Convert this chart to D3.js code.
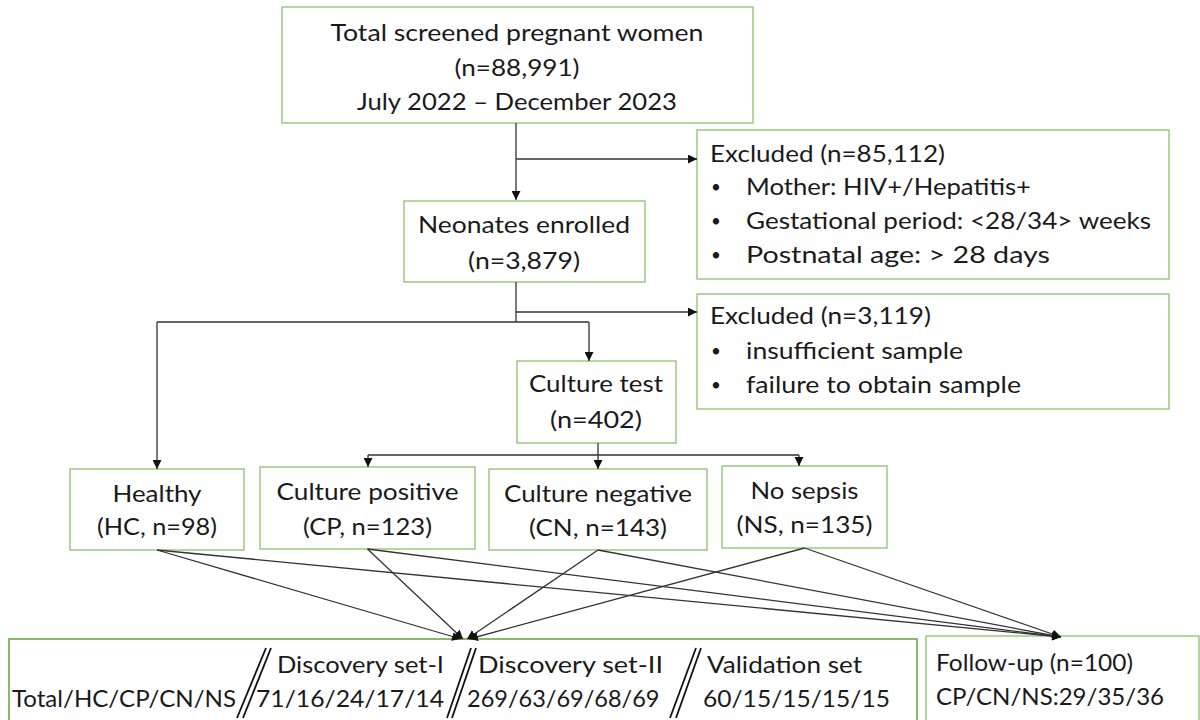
<!DOCTYPE html>
<html><head><meta charset="utf-8">
<script src="https://cdn.jsdelivr.net/npm/d3@7"></script>
<style>html,body{margin:0;padding:0;background:#fff;}svg{display:block;}</style>
</head><body>
<svg id="c" width="1200" height="720"></svg>
<script>
// ---- data ----
const screenedLines = ["Total screened pregnant women", "(n=88,991)", "July 2022 \u2013 December 2023"];
const excluded1Title = "Excluded (n=85,112)";
const excluded1Items = ["Mother: HIV+/Hepatitis+", "Gestational period: <28/34> weeks", "Postnatal age: > 28 days"];
const enrolledLines = ["Neonates enrolled", "(n=3,879)"];
const excluded2Title = "Excluded (n=3,119)";
const excluded2Items = ["insufficient sample", "failure to obtain sample"];
const cultureLines = ["Culture test", "(n=402)"];
const groupNames = ["Healthy", "Culture positive", "Culture negative", "No sepsis"];
const groupCodes = ["HC", "CP", "CN", "NS"];
const groupN = [98, 123, 143, 135];
const setHeader = "Total/HC/CP/CN/NS";
const setNames = ["Discovery set-I", "Discovery set-II", "Validation set"];
const setCounts = [[71, 16, 24, 17, 14], [269, 63, 69, 68, 69], [60, 15, 15, 15, 15]];
const followUpN = 100;
const followUpCodes = ["CP", "CN", "NS"];
const followUpCounts = [29, 35, 36];

// ---- layout ----
const svg = d3.select("#c");
const FONT = "Lato, 'Open Sans', sans-serif";
const BORDER = "#8cc26c";
const LINE = "#333";

const defs = svg.append("defs");
defs.append("marker").attr("id", "ah").attr("viewBox", "0 0 10 10")
  .attr("refX", 10).attr("refY", 5).attr("markerWidth", 9).attr("markerHeight", 9)
  .attr("markerUnits", "userSpaceOnUse").attr("orient", "auto")
  .append("path").attr("d", "M0,0 L10,5 L0,10 z").attr("fill", "#111");

const gBox = svg.append("g"), gLine = svg.append("g"), gText = svg.append("g");

function box(x, y, w, h, color, sw) {
  gBox.append("rect").attr("x", x).attr("y", y).attr("width", w).attr("height", h)
    .attr("fill", "#fff").attr("stroke", color || BORDER).attr("stroke-width", sw || 1.3);
}
function txt(x, y, s, anchor, target, size) {
  const t = gText.append("text").attr("x", x).attr("y", y).text(s)
    .attr("font-family", FONT).attr("font-size", size || 23.5).attr("fill", "#1a1a1a")
    .attr("text-anchor", anchor || "start");
  if (target) {
    const L = t.node().getComputedTextLength();
    if (Math.abs(L - target) > 1) t.attr("textLength", target).attr("lengthAdjust", "spacingAndGlyphs");
  }
  return t;
}
function line(pts, arrow) {
  const p = gLine.append("path").attr("d", d3.line()(pts)).attr("fill", "none")
    .attr("stroke", LINE).attr("stroke-width", 1.3);
  if (arrow) p.attr("marker-end", "url(#ah)");
}

// boxes
const B = {
  top: [282, 7, 471, 116], ex1: [697, 130, 472, 149], neo: [404, 201, 241, 81],
  ex2: [697, 294, 472, 115], cul: [517, 361, 159, 82],
  g: [[70, 469, 174, 81], [260, 467, 215, 82], [489, 469, 218, 81], [722, 466, 165, 82]],
  bot: [9, 639, 908, 100], fu: [926, 636, 273, 100]
};
box(...B.top); box(...B.ex1); box(...B.neo); box(...B.ex2); box(...B.cul);
B.g.forEach(b => box(...b));
box(...B.bot, "#7ab55a", 1.8); box(...B.fu);

// connectors
line([[516, 123], [516, 200]], true);
line([[516, 159], [697, 159]], true);
line([[516, 282], [516, 322]]);
line([[516, 312], [697, 312]], true);
line([[157, 322], [589, 322]]);
line([[157, 322], [157, 469]], true);
line([[589, 322], [589, 361]], true);
line([[598, 443], [598, 469]], true);
line([[368, 455], [799, 455]]);
line([[368, 455], [368, 467]], true);
line([[799, 455], [799, 466]], true);
const bottoms = B.g.map(b => [b[0] + b[2] / 2, b[1] + b[3]]);
const leftTargets = [[461, 639], [463, 639], [467, 639], [469, 639]];
bottoms.forEach((p, i) => {
  line([p, leftTargets[i]], true);
  line([p, [1061, 637]], true);
});

// texts
const topW = [373, 125, 320];
screenedLines.forEach((s, i) => txt(517, [41, 76, 110][i], s, "middle", topW[i]));
txt(710, 162, excluded1Title, "start", 235);
const ex1W = [285, 405, 304];
excluded1Items.forEach((s, i) => {
  txt(716, [193, 227, 261][i], "\u2022", "middle", null, 17);
  txt(746, [195, 229, 263][i], s, "start", ex1W[i]);
});
const neoW = [212, 112];
enrolledLines.forEach((s, i) => txt(524, [233, 269][i], s, "middle", neoW[i]));
txt(710, 324, excluded2Title, "start", 221);
const ex2W = [217, 275];
excluded2Items.forEach((s, i) => {
  txt(716, [356.5, 391][i], "\u2022", "middle", null, 17);
  txt(746, [358.5, 393][i], s, "start", ex2W[i]);
});
const culW = [134, 92];
cultureLines.forEach((s, i) => txt(596, [392, 428][i], s, "middle", culW[i]));
const gW1 = [89, 182, 188, 108], gW2 = [120, 129, 138, 136];
const gY1 = [502, 500, 502, 499], gY2 = [535, 535, 536, 533];
B.g.forEach((b, i) => {
  const cx = b[0] + b[2] / 2;
  txt(cx, gY1[i], groupNames[i], "middle", gW1[i]);
  txt(cx, gY2[i], "(" + groupCodes[i] + ", n=" + groupN[i] + ")", "middle", gW2[i]);
});

// bottom-left: sets
txt(12, 707, setHeader, "start", 224);
const setX1 = [277, 478, 707], setW1 = [167, 185, 155];
const setX2 = [256, 467, 703], setW2 = [188, 193, 187];
setNames.forEach((s, i) => {
  txt(setX1[i], 673, s, "start", setW1[i]);
  txt(setX2[i], 707, setCounts[i].join("/"), "start", setW2[i]);
});
// double slashes
const slashes = [[[266, 648], [237, 718]], [[271, 648], [243, 718]],
                 [[471, 648], [447, 718]], [[476, 648], [452, 718]],
                 [[696, 648], [670, 718]], [[701, 648], [676, 718]]];
slashes.forEach(s => gText.append("path").attr("d", d3.line()(s)).attr("stroke", "#111").attr("stroke-width", 1.8));

// follow-up
txt(936, 671, "Follow-up (n=" + followUpN + ")", "start", 197);
txt(936, 705, followUpCodes.join("/") + ":" + followUpCounts.join("/"), "start", 228);
</script>
</body></html>
